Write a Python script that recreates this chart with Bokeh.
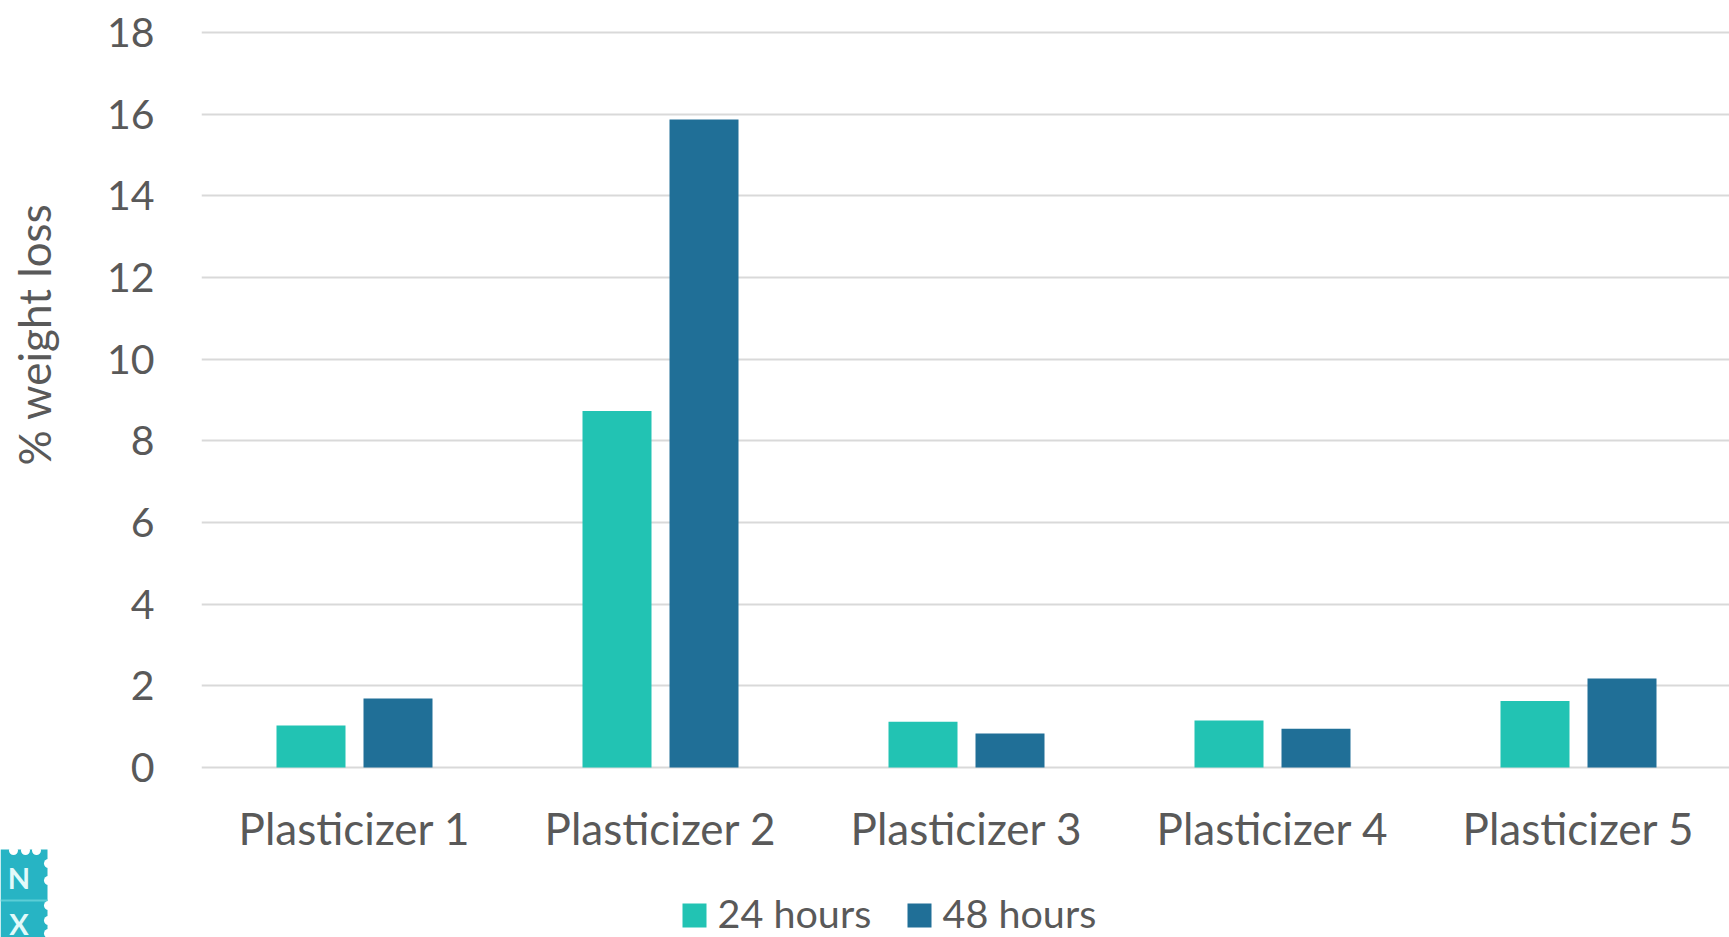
import math

from bokeh.core.properties import value
from bokeh.embed import file_html
from bokeh.layouts import column, row
from bokeh.models import ColumnDataSource, FixedTicker, Range1d
from bokeh.plotting import figure
from bokeh.resources import INLINE

categories = ["Plasticizer 1", "Plasticizer 2", "Plasticizer 3", "Plasticizer 4", "Plasticizer 5"]
hours_24 = [1.03, 8.73, 1.12, 1.15, 1.63]
hours_48 = [1.69, 15.87, 0.83, 0.95, 2.18]
y_ticks = [0, 2, 4, 6, 8, 10, 12, 14, 16, 18]
series_names = ["24 hours", "48 hours"]
y_title = "% weight loss"

TEAL = "#22C3B3"
BLUE = "#206F97"
TEXT = "#595959"
GRID = "#D9D9D9"
BADGE = "#27B4C4"
BADGE_TEXT = "#E2FAFA"
FONT = "Lato"
LABEL_SIZE = "44px"
TICK_SIZE = "41px"
LEGEND_SIZE = "39.5px"

WIDTH, HEIGHT = 1729, 937
MAIN_HEIGHT = 856
SIDE_WIDTH = 80
FRAME_LEFT, FRAME_TOP = 201, 22
FRAME_BOTTOM = MAIN_HEIGHT - 772
SLOT = 306
UNIT = 40.89
BAR_WIDTH = 69 / SLOT
OFFSET = 43.5 / SLOT

positions = [i + 0.5 for i in range(len(categories))]


def page_figure(width, height, x0, y0):
    """A bare figure whose data coordinates are page pixels, starting at (x0, y0)."""
    f = figure(width=width, height=height, output_backend="svg", toolbar_location=None,
               x_range=Range1d(x0, WIDTH if x0 else width), y_range=Range1d(y0 + height, y0),
               min_border=0, outline_line_color=None, background_fill_color="white",
               border_fill_color="white")
    f.axis.visible = False
    f.grid.visible = False
    return f


# left column: rotated value-axis title above the publisher badge
side = page_figure(SIDE_WIDTH, HEIGHT, 0, 0)
side.text(x=[33], y=[334], text=[y_title], angle=math.pi / 2, text_align="center",
          text_baseline="alphabetic", text_font=value(FONT), text_font_size=LABEL_SIZE,
          text_color=TEXT)
side.quad(left=[0], right=[47], top=[849], bottom=[937], fill_color=BADGE, line_color=None)
side.segment(x0=[0], x1=[47], y0=[900], y1=[900], line_color="#5CCDD6", line_width=2)
side.scatter(x=[48, 48, 48, 48, 48, 13, 25, 36],
             y=[863, 880, 905, 920, 933, 850, 850, 850],
             size=9, marker="circle", fill_color="white", line_color=None)
side.text(x=[18.5, 18.5], y=[877, 923], text=["N", "X"], text_align="center",
          text_baseline="alphabetic", text_font=value(FONT), text_font_style="bold",
          text_font_size="29px", text_color=BADGE_TEXT)

# the value range runs a little past 0 and 18 so both end gridlines get drawn
p = figure(
    width=WIDTH - SIDE_WIDTH, height=MAIN_HEIGHT, output_backend="svg", toolbar_location=None,
    x_range=Range1d(0, (WIDTH - FRAME_LEFT) / SLOT),
    y_range=Range1d(-4 / UNIT, 18 + 10 / UNIT),
    min_border_left=FRAME_LEFT - SIDE_WIDTH, min_border_right=0,
    min_border_top=FRAME_TOP, min_border_bottom=FRAME_BOTTOM,
    background_fill_color="white", border_fill_color="white", outline_line_color=None,
)

source = ColumnDataSource(dict(
    x24=[x - OFFSET for x in positions], x48=[x + OFFSET for x in positions],
    h24=hours_24, h48=hours_48,
))
p.vbar(x="x24", top="h24", width=BAR_WIDTH, source=source, fill_color=TEAL, line_color=None)
p.vbar(x="x48", top="h48", width=BAR_WIDTH, source=source, fill_color=BLUE, line_color=None)

p.yaxis.ticker = FixedTicker(ticks=y_ticks)
p.yaxis.axis_line_color = None
p.yaxis.major_tick_line_color = None
p.yaxis.minor_tick_line_color = None
p.yaxis.major_label_text_font = FONT
p.yaxis.major_label_text_font_size = TICK_SIZE
p.yaxis.major_label_text_color = TEXT
p.yaxis.major_label_standoff = 41

p.ygrid.ticker = FixedTicker(ticks=y_ticks)
p.ygrid.grid_line_color = GRID
p.ygrid.grid_line_width = 2
p.ygrid.level = "underlay"
p.xgrid.grid_line_color = None

p.xaxis.ticker = FixedTicker(ticks=positions)
p.xaxis.major_label_overrides = dict(zip(positions, categories))
p.xaxis.axis_line_color = None
p.xaxis.major_tick_line_color = None
p.xaxis.minor_tick_line_color = None
p.xaxis.major_label_text_font = FONT
p.xaxis.major_label_text_font_size = LABEL_SIZE
p.xaxis.major_label_text_color = TEXT
p.xaxis.major_label_standoff = 24

# bottom strip: swatches and names of the two series; the column layout lines its
# frame up with the chart's, so the strip's x range starts at the chart's left edge
strip = page_figure(WIDTH - SIDE_WIDTH, HEIGHT - MAIN_HEIGHT, FRAME_LEFT, MAIN_HEIGHT)
strip.quad(left=[682, 907], right=[706, 931], top=[903, 903], bottom=[927, 927],
           fill_color=[TEAL, BLUE], line_color=None)
strip.text(x=[717, 942], y=[912, 912], text=series_names, text_align="left",
           text_baseline="alphabetic", text_font=value(FONT), text_font_size=LEGEND_SIZE,
           text_color=TEXT)

page = row(side, column(p, strip, spacing=0), spacing=0)
open("out.html", "w").write(file_html(page, INLINE))
